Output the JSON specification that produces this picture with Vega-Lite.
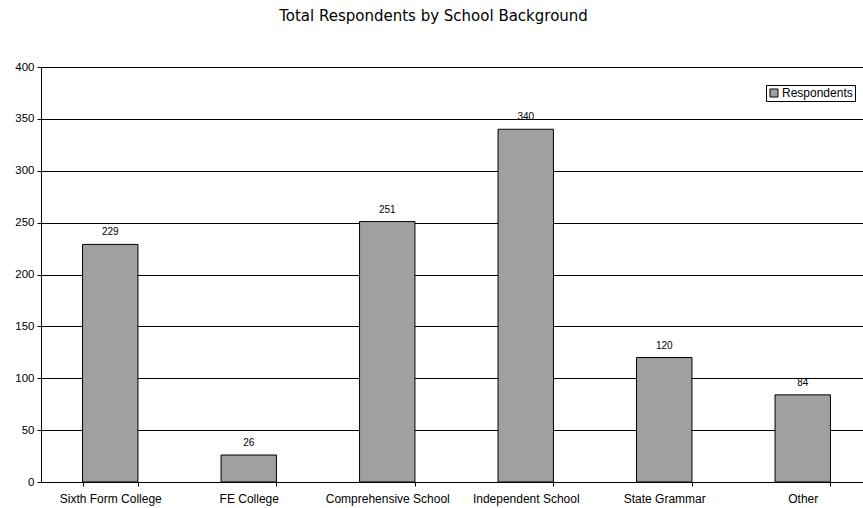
{
  "$schema": "https://vega.github.io/schema/vega-lite/v6.json",
  "width": 821,
  "height": 415,
  "autosize": {"type": "none"},
  "padding": {"left": 41, "top": 67, "right": 1, "bottom": 26},
  "background": "white",
  "title": {
    "text": "Total Respondents by School Background",
    "font": "DejaVu Sans",
    "fontSize": 15,
    "fontWeight": "normal",
    "color": "black",
    "anchor": "middle",
    "dx": -18,
    "offset": 37
  },
  "data": {
    "values": [
      {"school": "Sixth Form College", "respondents": 229, "series": "Respondents"},
      {"school": "FE College", "respondents": 26, "series": "Respondents"},
      {"school": "Comprehensive School", "respondents": 251, "series": "Respondents"},
      {"school": "Independent School", "respondents": 340, "series": "Respondents"},
      {"school": "State Grammar", "respondents": 120, "series": "Respondents"},
      {"school": "Other", "respondents": 84, "series": "Respondents"}
    ]
  },
  "config": {
    "view": {"stroke": null},
    "axis": {
      "labelFont": "Liberation Sans",
      "labelColor": "black",
      "domainColor": "black",
      "tickColor": "black",
      "tickSize": 4,
      "titleFont": "Liberation Sans"
    }
  },
  "encoding": {
    "x": {
      "field": "school",
      "type": "nominal",
      "sort": null,
      "scale": {"paddingInner": 0.6, "paddingOuter": 0.3, "range": [0, 831]},
      "axis": {"title": null, "labelAngle": 0, "tickBand": "extent", "labelPadding": 7, "labelFontSize": 12}
    },
    "y": {
      "field": "respondents",
      "type": "quantitative",
      "scale": {"domain": [0, 400], "nice": false},
      "axis": {
        "title": null,
        "values": [0, 50, 100, 150, 200, 250, 300, 350, 400],
        "grid": true,
        "gridColor": "black",
        "gridOpacity": 1,
        "labelPadding": 3,
        "labelFontSize": 11.5
      }
    }
  },
  "layer": [
    {
      "mark": {"type": "bar", "stroke": "black", "strokeWidth": 1},
      "encoding": {
        "color": {
          "field": "series",
          "type": "nominal",
          "scale": {"range": ["#a0a0a0"]},
          "legend": {
            "title": null,
            "orient": "none",
            "legendX": 725,
            "legendY": 18,
            "strokeColor": "black",
            "padding": 2,
            "symbolType": "square",
            "symbolSize": 64,
            "symbolStrokeColor": "black",
            "symbolStrokeWidth": 1,
            "labelFont": "Liberation Sans",
            "labelFontSize": 12,
            "labelColor": "black",
            "labelOffset": 2
          }
        }
      }
    },
    {
      "mark": {"type": "text", "dy": -12, "font": "Liberation Sans", "fontSize": 10, "color": "black"},
      "encoding": {"text": {"field": "respondents", "type": "quantitative"}}
    }
  ]
}
